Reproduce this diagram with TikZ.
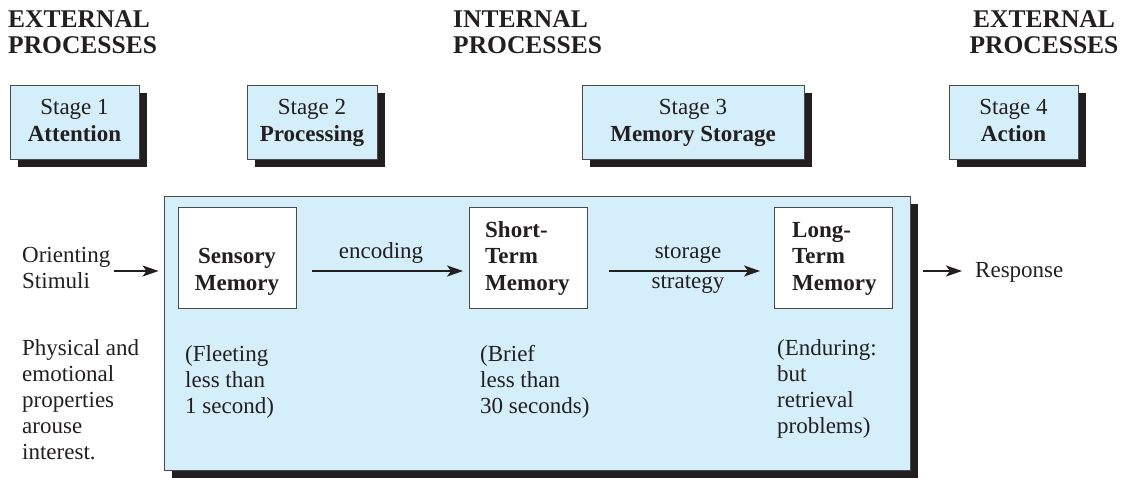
\documentclass[tikz,border=0pt]{standalone}
\usepackage{fontspec}
\setmainfont{Liberation Serif}
\usetikzlibrary{arrows.meta,shadows}
\definecolor{boxblue}{HTML}{D4EEFA}
\definecolor{shadowc}{HTML}{231F20}
\definecolor{edgec}{HTML}{4A4A4C}
\definecolor{textc}{HTML}{231F20}
\tikzset{
  body/.style={font=\fontsize{23}{26}\selectfont, text=textc},
  head/.style={font=\fontsize{25.5}{26}\selectfont\bfseries, text=textc, align=left, anchor=base west, inner sep=0pt},
  shadowed/.style={drop shadow={shadow xshift=7.5pt, shadow yshift=-7.5pt, fill=shadowc, opacity=1}},
  stagebox/.style={draw=edgec, line width=0.9pt, fill=boxblue, shadowed, minimum height=74pt, inner sep=0pt},
  stagetext/.style={font=\fontsize{23}{27}\selectfont, text=textc, align=center, anchor=base, inner sep=0pt},
  bigbox/.style={draw=edgec, line width=0.9pt, fill=boxblue, shadowed, minimum width=746pt, minimum height=274pt, inner sep=0pt},
  membox/.style={draw=edgec, line width=0.9pt, fill=white, minimum width=118pt, minimum height=101pt, inner sep=0pt},
  memtext/.style={body, font=\fontsize{23}{26.5}\selectfont\bfseries, anchor=base west, align=left, inner sep=0pt},
  note/.style={body, anchor=base west, align=left, inner sep=0pt},
  arr/.style={-{Stealth[length=16pt,width=11pt,inset=4pt]}, line width=2pt, draw=shadowc},
}
\begin{document}
\begin{tikzpicture}[x=1pt,y=-1pt]
\useasboundingbox (0,0) rectangle (1129,477);
% headings (base = baseline of the last line)
\node[head] (h1) at (8,53) {EXTERNAL\\PROCESSES};
\node[head] (h2) at (453,53) {INTERNAL\\PROCESSES};
\node[head, align=center, anchor=base] (h3) at (1044,53) {EXTERNAL\\PROCESSES};
% stage boxes
\node[stagebox, minimum width=129pt] (s1) at (74.5,122.5) {};
\node[stagebox, minimum width=130pt] (s2) at (312,122.5) {};
\node[stagebox, minimum width=222pt] (s3) at (693,122.5) {};
\node[stagebox, minimum width=129pt] (s4) at (1013.5,122.5) {};
\node[stagetext] (t1) at (74.5,141) {Stage 1\\\textbf{Attention}};
\node[stagetext] (t2) at (312,141) {Stage 2\\\textbf{Processing}};
\node[stagetext] (t3) at (693,141) {Stage 3\\\textbf{Memory Storage}};
\node[stagetext] (t4) at (1013.5,141) {Stage 4\\\textbf{Action}};
% big box
\node[bigbox] (big) at (537,333) {};
% memory boxes
\node[membox] (sm) at (237,257.5) {};
\node[membox] (stm) at (528.5,257.5) {};
\node[membox] (ltm) at (833.5,257.5) {};
\node[memtext, align=center, anchor=base] (smt) at (237,290) {Sensory\\Memory};
\node[memtext] (stmt) at (485,290) {Short-\\Term\\Memory};
\node[memtext] (ltmt) at (792,290) {Long-\\Term\\Memory};
\coordinate (ay) at (0,271);
% side texts
\node[note] (orient) at (22,288) {Orienting\\Stimuli};
\node[note] (phys) at (22,459) {Physical and\\emotional\\properties\\arouse\\interest.};
\node[note] (flt) at (185,413) {(Fleeting\\less than\\1 second)};
\node[note] (brf) at (480,413) {(Brief\\less than\\30 seconds)};
\node[note] (end) at (777,433) {(Enduring:\\but\\retrieval\\problems)};
\node[note] (resp) at (975,277) {Response};
% arrows
\draw[arr, shorten <=3pt, shorten >=5pt] (orient.east |- ay) -- (big.west |- ay);
\draw[arr, shorten <=16pt, shorten >=6pt] (sm.east |- ay) -- (stm.west |- ay);
\node[body, anchor=base, inner sep=0pt] (enc) at (381,258) {encoding};
\draw[arr, shorten <=21pt, shorten >=14pt] (stm.east |- ay) -- (ltm.west |- ay);
\node[body, anchor=base, inner sep=0pt] (sto) at (688,258) {storage};
\node[body, anchor=base, inner sep=0pt] (str) at (688,288) {strategy};
\draw[arr, shorten <=13pt, shorten >=13pt] (big.east |- ay) -- (resp.west |- ay);
\end{tikzpicture}
\end{document}
